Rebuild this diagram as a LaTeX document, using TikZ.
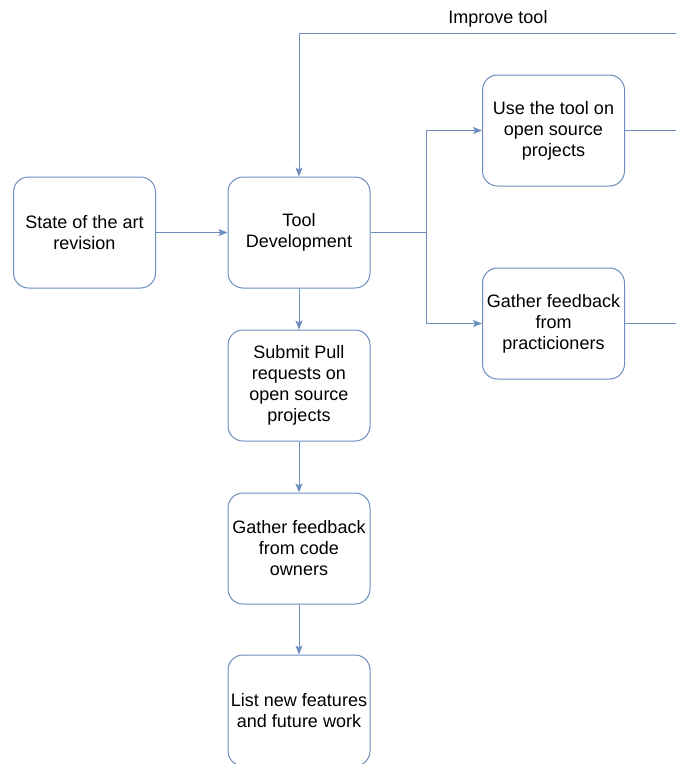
\documentclass[tikz,border=0pt]{standalone}
\usepackage{fontspec}
\setmainfont{Liberation Sans}
\usetikzlibrary{arrows.meta}
\definecolor{edgeblue}{HTML}{6C8EBF}
\begin{document}
\begin{tikzpicture}[x=1pt,y=-1pt,
  box/.style={draw=edgeblue,line width=1pt,rounded corners=15pt,fill=white,
    minimum width=142pt,minimum height=111pt,inner sep=0pt,align=center,
    font=\fontsize{18}{21}\selectfont},
  link/.style={draw=edgeblue,line width=1pt,-{Stealth[length=9pt,width=7pt,inset=2pt]}},
  plain/.style={draw=edgeblue,line width=1pt}]
\useasboundingbox (0,0) rectangle (676,764);
\clip (0,0) rectangle (676,764);

% process boxes
\node[box] (state)  at (84.5,232.5) {State of the art\\revision};
\node[box] (tool)   at (299,232.5)  {Tool\\Development};
\node[box] (use)    at (553.5,130.5) {Use the tool on\\open source\\projects};
\node[box] (gfp)    at (553.5,323.5) {Gather feedback\\from\\practicioners};
\node[box] (submit) at (299,385.5)  {Submit Pull\\requests on\\open source\\projects};
\node[box] (gfc)    at (299,548.5)  {Gather feedback\\from code\\owners};
\node[box] (list)   at (299,710.5)  {List new features\\and future work};

% helper points
\coordinate (br)   at (426,232.5);
\coordinate (topR) at (676,33);
\coordinate (useR) at (676,130.5);
\coordinate (gfpR) at (676,323.5);

% connectors
\draw[link] (state) -- (tool);
\draw[plain] (tool.east) -- (br);
\draw[link] (br) |- (use.west);
\draw[link] (br) |- (gfp.west);
\draw[plain] (use.east) -- (useR);
\draw[plain] (gfp.east) -- (gfpR);
\draw[link] (topR) -| (tool.north);
\node[font=\fontsize{18}{21}\selectfont] (improve) at (498,19) {Improve tool};
\draw[link] (tool) -- (submit);
\draw[link] (submit) -- (gfc);
\draw[link] (gfc) -- (list);
\end{tikzpicture}
\end{document}
